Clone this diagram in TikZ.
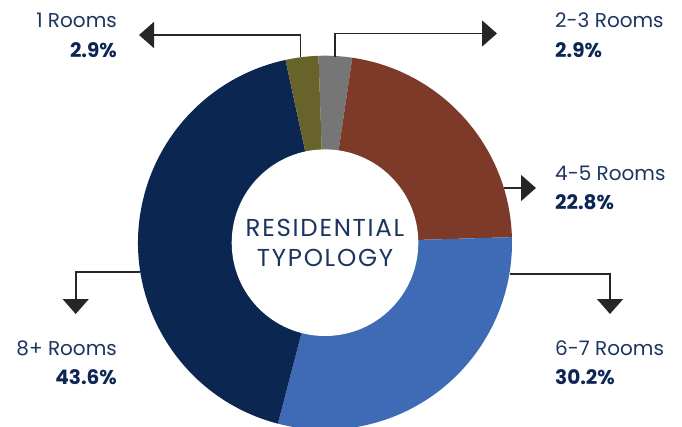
\documentclass[tikz,border=0pt]{standalone}
\usepackage{fontspec}
\setmainfont{Poppins}
\newfontfamily\hubfont[LetterSpace=7]{Poppins}
\usetikzlibrary{arrows.meta}
\definecolor{navy}{HTML}{0C2652}
\definecolor{olive}{HTML}{67632B}
\definecolor{slgray}{HTML}{767676}
\definecolor{brown}{HTML}{7E3A29}
\definecolor{blue}{HTML}{3F6AB5}
\definecolor{arrowc}{HTML}{262626}
\definecolor{txtnavy}{HTML}{1C355F}
\definecolor{boldnavy}{HTML}{0D2554}
\tikzset{
  conn/.style={draw=arrowc, line width=1.6pt, -{Triangle[length=15pt,width=26pt]}},
  lbl/.style={inner sep=0pt, text=txtnavy, font=\fontsize{20}{24}\selectfont},
  pct/.style={inner sep=0pt, text=boldnavy, font=\fontsize{20}{24}\selectfont\bfseries},
}
\begin{document}
\begin{tikzpicture}[x=1pt,y=1pt]
\useasboundingbox (0,0) rectangle (682,426);
\clip (0,0) rectangle (682,426);
\coordinate (c) at (325,183.3);
% slices
\fill[slgray] (c) -- ++(92:187pt) arc[start angle=92, end angle=81.6, radius=187pt] -- cycle;
\fill[brown] (c) -- ++(81.6:187pt) arc[start angle=81.6, end angle=1.7, radius=187pt] -- cycle;
\fill[blue] (c) -- ++(1.7:187pt) arc[start angle=1.7, end angle=-104.6, radius=187pt] -- cycle;
\fill[navy] (c) -- ++(-104.6:187pt) arc[start angle=-104.6, end angle=-257.8, radius=187pt] -- cycle;
\fill[olive] (c) -- ++(-257.8:187pt) arc[start angle=-257.8, end angle=-268, radius=187pt] -- cycle;
% hub
\node[circle, fill=white, minimum size=186.6pt, inner sep=0pt, align=center,
      text=txtnavy, font=\hubfont\fontsize{24.5}{30}\selectfont] (hub) at (c) {RESIDENTIAL\\TYPOLOGY};
% connector coordinates
\coordinate (s1) at (300.3,369);
\coordinate (t1) at (139,391);
\coordinate (s2) at (335,369.2);
\coordinate (t2) at (497,392.5);
\coordinate (s3) at (504,238);
\coordinate (t3) at (536,238);
\coordinate (s4) at (509.5,152);
\coordinate (t4) at (610,112);
\coordinate (s5) at (140.3,154.3);
\coordinate (t5) at (75.7,112);
\draw[conn] (s1) |- (t1);
\draw[conn] (s2) |- (t2);
\draw[conn] (s3) -- (t3);
\draw[conn] (s4) -| (t4);
\draw[conn] (s5) -| (t5);
% labels
\node[lbl, anchor=base east] (l1) at (117,398.3) {1 Rooms};
\node[pct, anchor=base east] (p1) at (117,368.7) {2.9\%};
\node[lbl, anchor=base west] (l2) at (555,398.3) {2-3 Rooms};
\node[pct, anchor=base west] (p2) at (555,368.7) {2.9\%};
\node[lbl, anchor=base west] (l3) at (555,245.3) {4-5 Rooms};
\node[pct, anchor=base west] (p3) at (555,216.7) {22.8\%};
\node[lbl, anchor=base west] (l4) at (555,71) {6-7 Rooms};
\node[pct, anchor=base west] (p4) at (555,42) {30.2\%};
\node[lbl, anchor=base east] (l5) at (117,71) {8+ Rooms};
\node[pct, anchor=base east] (p5) at (117,42) {43.6\%};
\end{tikzpicture}
\end{document}
